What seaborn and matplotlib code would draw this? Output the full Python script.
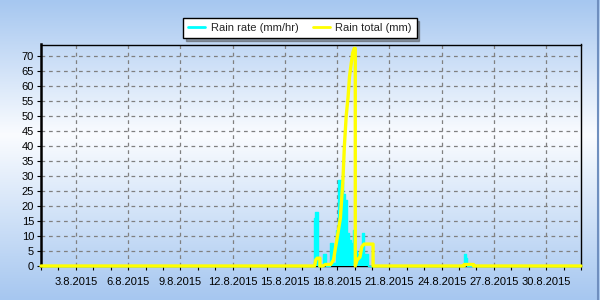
import numpy as np
import pandas as pd
import matplotlib
matplotlib.use("Agg")
import matplotlib.pyplot as plt
import matplotlib.dates as mdates
from matplotlib.lines import Line2D
from matplotlib.ticker import FuncFormatter
import seaborn as sns

# ---- data ----
rate_times = ["2015-08-01 00:00", "2015-08-16 16:30", "2015-08-16 18:00", "2015-08-16 21:00",
              "2015-08-17 04:00", "2015-08-17 08:00", "2015-08-17 14:30", "2015-08-17 18:00",
              "2015-08-17 22:30", "2015-08-18 01:00", "2015-08-18 05:30", "2015-08-18 08:00",
              "2015-08-18 10:30", "2015-08-18 14:00", "2015-08-18 16:30", "2015-08-18 19:30",
              "2015-08-18 22:00", "2015-08-19 00:30", "2015-08-19 03:30", "2015-08-19 07:30",
              "2015-08-19 10:00", "2015-08-19 13:00", "2015-08-19 18:30", "2015-08-25 07:00",
              "2015-08-25 09:30", "2015-08-25 11:00", "2015-09-01 00:00"]
rate_values = [0, 16, 18, 0,
               4, 0, 7.5, 1,
               12, 28.7, 28, 24,
               22, 11, 8.7, 7.5,
               12, 5, 4, 4,
               11, 4, 0, 4,
               2.8, 0, 0]

total_times = ["2015-08-01 00:00", "2015-08-16 17:00", "2015-08-16 18:30", "2015-08-16 20:30",
               "2015-08-17 00:15", "2015-08-17 00:15", "2015-08-17 04:00", "2015-08-17 08:00",
               "2015-08-17 15:00", "2015-08-17 19:00", "2015-08-17 21:00", "2015-08-18 00:30",
               "2015-08-18 04:30", "2015-08-18 08:00", "2015-08-18 10:00", "2015-08-18 12:30",
               "2015-08-18 15:00", "2015-08-18 17:00", "2015-08-18 19:30", "2015-08-18 21:30",
               "2015-08-18 23:30", "2015-08-19 01:00", "2015-08-19 01:00", "2015-08-19 03:30",
               "2015-08-19 07:30", "2015-08-19 10:00", "2015-08-19 13:00", "2015-08-20 01:30",
               "2015-08-20 01:30", "2015-08-25 07:00", "2015-08-25 07:00", "2015-08-25 20:00",
               "2015-08-25 20:00", "2015-09-01 00:00"]
total_values = [0, 0, 2, 2.6,
                2.6, 0, 0, 0.5,
                0.5, 2, 5, 10,
                16, 28.7, 40, 50,
                56, 63, 67.6, 71,
                72.5, 72.5, 0, 2,
                3, 6.4, 7.3, 7.3,
                0, 0, 0.5, 0.5,
                0, 0]

y_ticks = list(range(0, 75, 5))
x_tick_days = [3, 6, 9, 12, 15, 18, 21, 24, 27, 30]
series_labels = ["Rain rate (mm/hr)", "Rain total (mm)"]

rate_df = pd.DataFrame({"time": pd.to_datetime(rate_times), "rate": rate_values})
total_df = pd.DataFrame({"time": pd.to_datetime(total_times), "total": total_values})

# ---- style ----
sns.set_style("ticks")
plt.rcParams["font.family"] = ["Liberation Sans", "DejaVu Sans"]
plt.rcParams["font.size"] = 8

fig = plt.figure(figsize=(6, 3), dpi=100)

# background gradient
bg = fig.add_axes([0, 0, 1, 1], zorder=-10)
yy = np.linspace(0, 1, 300)
top_c = np.array([166, 199, 240]) / 255
mid_c = np.array([250, 252, 255]) / 255
bot_c = np.array([166, 199, 240]) / 255
cols = np.zeros((300, 1, 3))
for i, t in enumerate(yy):
    if t < 0.45:
        f = t / 0.45
        cols[i, 0] = top_c * (1 - f) + mid_c * f
    else:
        f = (t - 0.45) / 0.55
        cols[i, 0] = mid_c * (1 - f) + bot_c * f
bg.imshow(cols, aspect="auto", extent=[0, 1, 0, 1], origin="upper")
bg.set_xlim(0, 1); bg.set_ylim(0, 1)
bg.axis("off")
bg.plot([0.997, 0.997], [0, 1], color="#6f8fbf", lw=1.5)

ax = fig.add_axes([41 / 600, 1 - 266 / 300, 540 / 600, 221.5 / 300])
ax.set_facecolor("none")

ax.fill_between(rate_df["time"], 0, rate_df["rate"], step="post", color="#00ffff", lw=0, zorder=3)
sns.lineplot(data=rate_df, x="time", y="rate", ax=ax, color="#00ffff", lw=1,
             drawstyle="steps-post", estimator=None, sort=False, zorder=3, clip_on=False)
sns.lineplot(data=total_df, x="time", y="total", ax=ax, color="#ffff00", lw=2.4,
             estimator=None, sort=False, zorder=4, clip_on=False)

ax.set_xlim(pd.Timestamp("2015-08-01"), pd.Timestamp("2015-09-01"))
ax.set_ylim(0, 73.8)
ax.set_xlabel("")
ax.set_ylabel("")

ax.xaxis.set_major_locator(mdates.DayLocator(bymonthday=x_tick_days))
ax.xaxis.set_minor_locator(mdates.DayLocator())
ax.xaxis.set_major_formatter(FuncFormatter(
    lambda v, p: f"{mdates.num2date(v).day}.{mdates.num2date(v).month}.{mdates.num2date(v).year}"))
ax.set_yticks(y_ticks)
ax.set_yticklabels([str(v) for v in y_ticks])

ax.tick_params(axis="both", which="both", direction="out", length=3, width=0.8,
               color="black", labelsize=8, labelcolor="black", pad=2)
ax.tick_params(axis="x", which="major", pad=5)

ax.grid(True, which="major", color="#808080", lw=0.9, linestyle=(0, (3, 3)))
ax.set_axisbelow(True)
for s in ["top", "right", "bottom", "left"]:
    ax.spines[s].set_visible(True)
    ax.spines[s].set_color("black")
    ax.spines[s].set_linewidth(1.0)
ax.spines["left"].set_linewidth(1.8)

handles = [Line2D([], [], color="#00ffff", lw=2), Line2D([], [], color="#ffff00", lw=2)]
leg = fig.legend(handles, series_labels, loc="center", bbox_to_anchor=(0.5, 1 - 28 / 300),
                 ncol=2, frameon=True, fancybox=False, shadow=True, fontsize=8,
                 handlelength=1.5, handletextpad=0.5, columnspacing=1.3,
                 borderpad=0.45, borderaxespad=0)
leg.get_frame().set_edgecolor("black")
leg.get_frame().set_facecolor("white")
leg.get_frame().set_linewidth(1.0)
leg.get_frame().set_alpha(1)

fig.savefig("out.png", dpi=100)
